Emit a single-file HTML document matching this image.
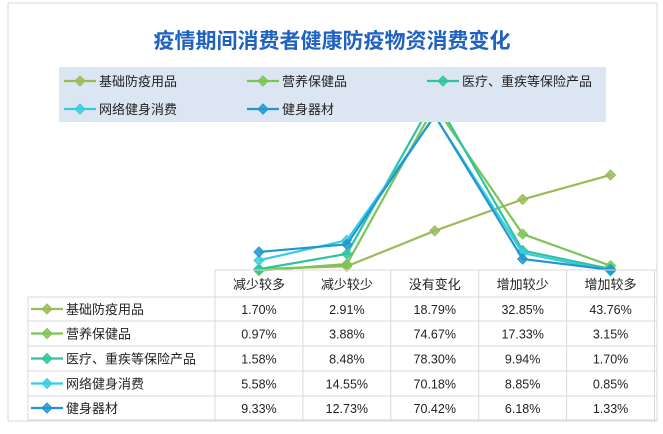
<!DOCTYPE html>
<html><head><meta charset="utf-8"><style>
body{margin:0;background:#fff;font-family:"Liberation Sans","Noto Sans CJK SC",sans-serif}
svg text{font-family:"Liberation Sans","Noto Sans CJK SC",sans-serif}
</style></head><body>
<svg id="chart" width="663" height="429" viewBox="0 0 663 429">
<rect x="8" y="3" width="649" height="418" fill="#fff" stroke="#d9d9d9"/>
<text x="332" y="48" text-anchor="middle" font-size="21" font-weight="bold" fill="#1f62c0">疫情期间消费者健康防疫物资消费变化</text>
<g id="lines"></g>
<g id="legend"></g>
<g id="table"></g>
</svg>
<script>
const categories = ["减少较多","减少较少","没有变化","增加较少","增加较多"];
const seriesNames = ["基础防疫用品","营养保健品","医疗、重疾等保险产品","网络健身消费","健身器材"];
const s1 = [1.70,2.91,18.79,32.85,43.76];
const s2 = [0.97,3.88,74.67,17.33,3.15];
const s3 = [1.58,8.48,78.30,9.94,1.70];
const s4 = [5.58,14.55,70.18,8.85,0.85];
const s5 = [9.33,12.73,70.42,6.18,1.33];
const seriesData = [s1,s2,s3,s4,s5];
const colors = ["#9bbb59","#7cc456","#2ec4a0","#38cce0","#2196d0"];
const NS="http://www.w3.org/2000/svg";
const colX0=215, colW=87.9, y0=272.8, yScale=2.235;
const xPos=i=>colX0+colW*(i+0.5);
const yPos=v=>y0-v*yScale;
function mk(tag,attrs,parent){const e=document.createElementNS(NS,tag);for(const k in attrs)e.setAttribute(k,attrs[k]);parent.appendChild(e);return e;}
function diamond(x,y,c,p){return mk("path",{d:`M${x} ${y-5}L${x+5} ${y}L${x} ${y+5}L${x-5} ${y}Z`,fill:c,stroke:c,"stroke-width":1,"fill-opacity":0.85},p);}
const lines=document.getElementById("lines");
seriesData.forEach((d,si)=>{
  const pl=mk("polyline",{points:d.map((v,i)=>xPos(i)+","+yPos(v)).join(" "),fill:"none",stroke:colors[si],"stroke-width":2.2},lines);
  
  
  d.forEach((v,i)=>{const m=diamond(xPos(i),yPos(v),colors[si],lines);
    
    });
});
const lg=document.getElementById("legend");
const lbg=mk("rect",{x:59,y:67,width:547,height:55,fill:"#dce6f2"},lg);


const lpos=[[64,81],[247,81],[427,81],[64,109],[247,109]];
seriesNames.forEach((n,i)=>{
  const [x,y]=lpos[i];
  const g=mk("g",{},lg);
  
  
  mk("line",{x1:x,y1:y,x2:x+32,y2:y,stroke:colors[i],"stroke-width":2.2},g);
  diamond(x+16,y,colors[i],g);
  const t=mk("text",{x:x+35,y:y+5,"font-size":13,fill:"#222"},g);t.textContent=n;
});
const tb=document.getElementById("table");
const rowY=[270,297,321,346,371,396,420];
const gc="#d9d9d9";
// header verticals
for(let i=0;i<=5;i++){mk("line",{x1:colX0+colW*i,y1:270,x2:colX0+colW*i,y2:420,stroke:gc},tb);}
mk("line",{x1:28,y1:297,x2:28,y2:420,stroke:gc},tb);
mk("line",{x1:colX0,y1:270,x2:657,y2:270,stroke:gc},tb);
for(let r=1;r<rowY.length;r++){mk("line",{x1:28,y1:rowY[r],x2:657,y2:rowY[r],stroke:gc},tb);}
categories.forEach((c,i)=>{const t=mk("text",{x:xPos(i),y:289,"text-anchor":"middle","font-size":13,fill:"#222"},tb);
  t.textContent=c;
  
  });
seriesData.forEach((d,si)=>{
  const cy=(rowY[si+1]+rowY[si+2])/2;
  mk("line",{x1:31,y1:cy,x2:63,y2:cy,stroke:colors[si],"stroke-width":2.2},tb);
  diamond(47,cy,colors[si],tb);
  const n=mk("text",{x:66,y:cy+5,"font-size":13,fill:"#222"},tb);n.textContent=seriesNames[si];
  
  
  d.forEach((v,i)=>{const t=mk("text",{x:xPos(i),y:cy+5,"text-anchor":"middle","font-size":12.5,fill:"#222"},tb);
    t.textContent=v.toFixed(2)+"%";
    
    });
});
</script>
</body></html>
